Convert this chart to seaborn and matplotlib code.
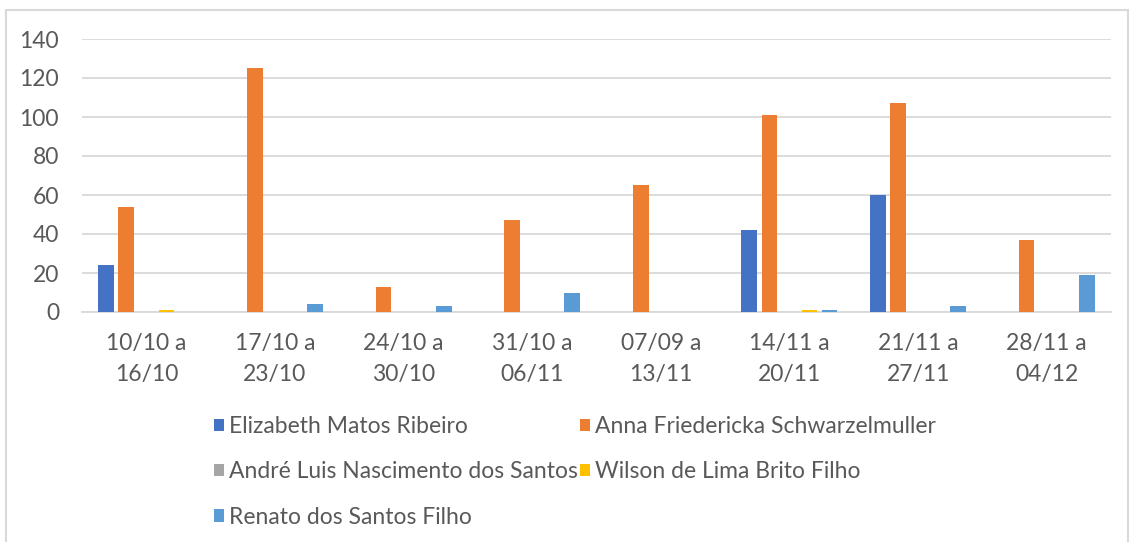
import matplotlib
matplotlib.use("Agg")
import matplotlib.pyplot as plt
import seaborn as sns
import pandas as pd
from matplotlib.patches import Patch, Rectangle

weeks = ["10/10 a\n16/10", "17/10 a\n23/10", "24/10 a\n30/10", "31/10 a\n06/11",
         "07/09 a\n13/11", "14/11 a\n20/11", "21/11 a\n27/11", "28/11 a\n04/12"]
people = ["Elizabeth Matos Ribeiro", "Anna Friedericka Schwarzelmuller",
          "André Luis Nascimento dos Santos", "Wilson de Lima Brito Filho",
          "Renato dos Santos Filho"]
elizabeth = [24, 0, 0, 0, 0, 42, 60, 0]
anna = [54, 125, 13, 47, 65, 101, 107, 37]
andre = [0, 0, 0, 0, 0, 0, 0, 0]
wilson = [1, 0, 0, 0, 0, 1, 0, 0]
renato = [0, 4, 3, 10, 0, 1, 3, 19]
colors = ["#4472C4", "#ED7D31", "#A5A5A5", "#FFC000", "#5B9BD5"]
yticks = [0, 20, 40, 60, 80, 100, 120, 140]

series = [elizabeth, anna, andre, wilson, renato]
rows = []
for p, vals in zip(people, series):
    for w, v in zip(weeks, vals):
        rows.append({"week": w, "person": p, "value": v})
df = pd.DataFrame(rows)

sns.set_theme(style="white")
plt.rcParams["font.family"] = ["Lato", "DejaVu Sans"]

FS = 16.5
W, H = 1129, 542
fig = plt.figure(figsize=(W / 100, H / 100), dpi=100)
ax = fig.add_axes([82 / W, (H - 312) / H, (1111 - 82) / W, (312 - 39) / H])

sns.barplot(data=df, x="week", y="value", hue="person", hue_order=people,
            palette=colors, order=weeks, width=0.78, gap=0.22, ax=ax,
            legend=False, errorbar=None, saturation=1, zorder=3,
            linewidth=0)

ax.set_ylim(0, 140)
ax.set_xlim(-0.5, len(weeks) - 0.5)
ax.set_yticks(yticks)
ax.set_xlabel("")
ax.set_ylabel("")
for s in ["top", "right", "left"]:
    ax.spines[s].set_visible(False)
ax.spines["bottom"].set_color("#D9D9D9")
ax.spines["bottom"].set_linewidth(1.3)
ax.spines["bottom"].set_zorder(1)
ax.yaxis.grid(True, color="#D9D9D9", linewidth=1.3)
ax.set_axisbelow(True)
ax.tick_params(axis="both", length=0, labelsize=FS, colors="#595959")
ax.tick_params(axis="y", pad=16.5)
ax.tick_params(axis="x", pad=15)
for lbl in ax.get_xticklabels():
    lbl.set_linespacing(1.6)

# legend in row-major order (matplotlib fills columns first)
handles = [Patch(facecolor=c, edgecolor="none") for c in colors]
order = [0, 2, 4, 1, 3]
leg = fig.legend([handles[i] for i in order], [people[i] for i in order],
                 loc="upper left", bbox_to_anchor=(214 / W, 1 - 416 / H),
                 ncol=2, frameon=False, fontsize=FS, handlelength=0.45,
                 handleheight=0.45, handletextpad=0.2, columnspacing=0.1,
                 labelspacing=1.06, borderpad=0, borderaxespad=0)
for t in leg.get_texts():
    t.set_color("#595959")

# chart frame
fig.add_artist(Rectangle((6 / W, -0.1), (1128 - 6) / W, 1.1 - 10 / H,
                         transform=fig.transFigure, fill=False,
                         edgecolor="#D9D9D9", linewidth=1.5))

fig.savefig("out.png", dpi=100, facecolor="white")
